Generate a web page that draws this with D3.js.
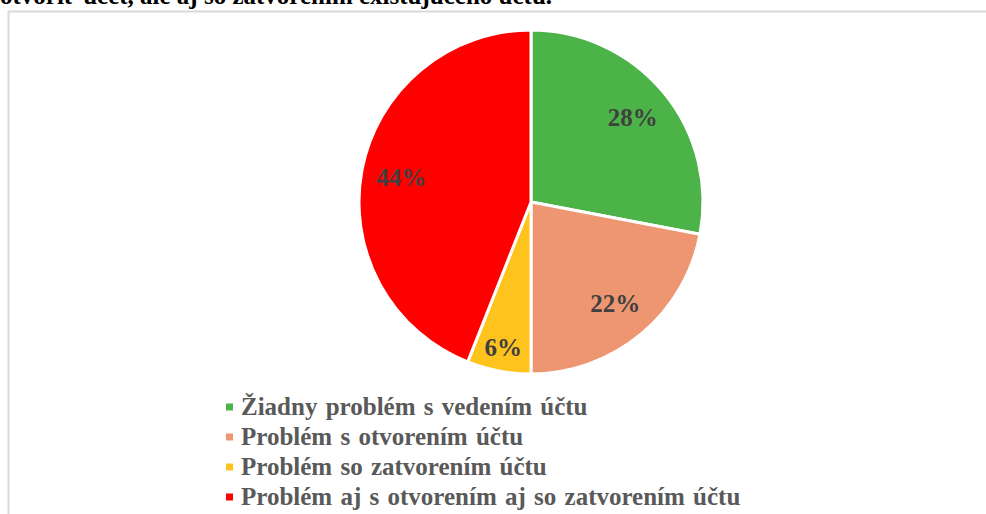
<!DOCTYPE html>
<html>
<head>
<meta charset="utf-8">
<script src="https://cdn.jsdelivr.net/npm/d3@7"></script>
<style>
  body { margin: 0; background: #fff; }
  svg { display: block; }
</style>
</head>
<body>
<div id="drawArea"></div>
<script>
var categories = ['Žiadny problém s vedením účtu',
                  'Problém s otvorením účtu',
                  'Problém so zatvorením účtu',
                  'Problém aj s otvorením aj so zatvorením účtu'];
var values = [28, 22, 6, 44];
var colors = ['#4BB347', '#EE9672', '#FFC31E', '#FF0000'];
var headline = 'otvoriť účet, ale aj so zatvorením existujúceho účtu.';

var width = 986, height = 514;
var serif = "'Liberation Serif', 'DejaVu Serif', serif";

var svg = d3.select('#drawArea').append('svg')
  .attr('width', width)
  .attr('height', height);

// cut-off line of the text above the chart
svg.append('text')
  .attr('x', 0)
  .attr('y', 4)
  .attr('font-family', serif)
  .attr('font-weight', 'bold')
  .attr('font-size', 25)
  .attr('fill', '#000')
  .text(headline);

// chart frame
svg.append('rect')
  .attr('x', 8.5)
  .attr('y', 11.5)
  .attr('width', 1200)
  .attr('height', 800)
  .attr('fill', 'none')
  .attr('stroke', '#d9d9d9')
  .attr('stroke-width', 2);

var cx = 531, cy = 202, radius = 172;

var pie = d3.pie().sort(null).value(function(d) { return d; });
var arcs = pie(values);
var arc = d3.arc().innerRadius(0).outerRadius(radius);

var g = svg.append('g').attr('transform', 'translate(' + cx + ',' + cy + ')');

g.selectAll('path.slice')
  .data(arcs)
  .enter()
  .append('path')
    .classed('slice', true)
    .attr('d', arc)
    .attr('fill', function(d, i) { return colors[i]; })
    .attr('stroke', '#fff')
    .attr('stroke-width', 3)
    .attr('stroke-linejoin', 'round');

g.selectAll('text.label')
  .data(arcs)
  .enter()
  .append('text')
    .classed('label', true)
    .attr('transform', function(d) {
      // small slices get their label pushed outward
      var r = d.data < 10 ? 148 : 132;
      var c = d3.arc().innerRadius(r).outerRadius(r).centroid(d);
      return 'translate(' + c[0] + ',' + c[1] + ')';
    })
    .attr('text-anchor', 'middle')
    .attr('dy', '0.33em')
    .attr('font-family', serif)
    .attr('font-weight', 'bold')
    .attr('font-size', 25)
    .attr('fill', '#404040')
    .text(function(d) { return d.data + '%'; });

// legend
var legendY = d3.scaleBand()
  .domain(categories)
  .range([392, 512]);

var legend = svg.selectAll('g.legend')
  .data(categories)
  .enter()
  .append('g')
    .classed('legend', true)
    .attr('transform', function(d) {
      return 'translate(226,' + (legendY(d) + legendY.bandwidth() / 2) + ')';
    });

legend.append('rect')
  .attr('x', 0)
  .attr('y', -3.5)
  .attr('width', 7)
  .attr('height', 7)
  .attr('fill', function(d, i) { return colors[i]; });

legend.append('text')
  .attr('x', 15)
  .attr('dy', '0.32em')
  .attr('font-family', serif)
  .attr('font-weight', 'bold')
  .attr('font-size', 25)
  .attr('word-spacing', 2)
  .attr('fill', '#595959')
  .text(function(d) { return d; });
</script>
</body>
</html>
